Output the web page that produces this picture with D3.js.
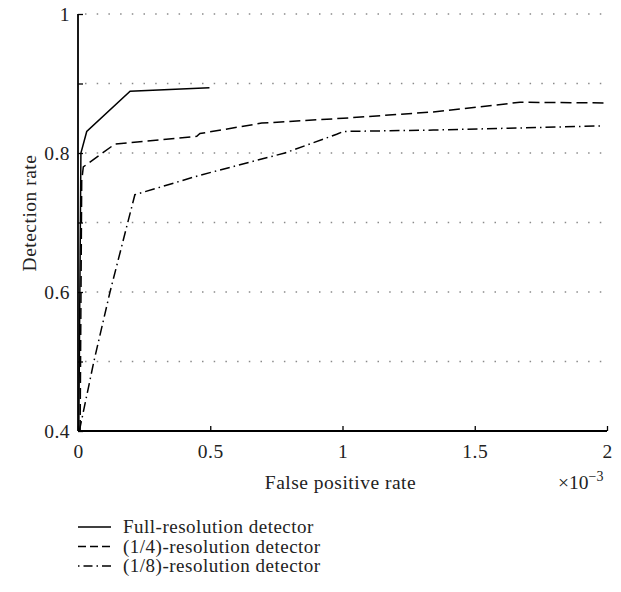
<!DOCTYPE html>
<html>
<head>
<meta charset="utf-8">
<script src="https://cdn.jsdelivr.net/npm/d3@7"></script>
<style>
  html, body { margin: 0; padding: 0; background: #fff; }
  svg { display: block; }
  text { font-family: "Liberation Serif", "DejaVu Serif", serif; fill: #222; }
</style>
</head>
<body>
<svg id="chart" width="621" height="592"></svg>
<script>
// ---- data (x in units of 1e-3) ----
const seriesNames = ["Full-resolution detector", "(1/4)-resolution detector", "(1/8)-resolution detector"];
const fullX = [0.003, 0.011, 0.033, 0.197, 0.497];
const fullY = [0.400, 0.800, 0.831, 0.889, 0.894];
const quarterX = [0.008, 0.014, 0.020, 0.140, 0.449, 0.461, 0.695, 1.003, 1.343, 1.671, 1.999];
const quarterY = [0.400, 0.760, 0.780, 0.813, 0.824, 0.828, 0.843, 0.850, 0.859, 0.873, 0.872];
const eighthX = [0.005, 0.060, 0.121, 0.215, 0.461, 0.782, 0.978, 1.003, 1.343, 1.986];
const eighthY = [0.400, 0.500, 0.600, 0.740, 0.768, 0.800, 0.827, 0.831, 0.833, 0.839];
const xTicks = [0, 0.5, 1, 1.5, 2];
const xTickLabels = ["0", "0.5", "1", "1.5", "2"];
const yTicks = [0.4, 0.5, 0.6, 0.7, 0.8, 0.9, 1.0];
const yTickLabels = ["0.4", "", "0.6", "", "0.8", "", "1"];
const gridY = [0.5, 0.6, 0.7, 0.8, 0.9, 1.0];

const svg = d3.select("#chart");
const mLeft = 78, mRight = 607, mTop = 14, mBottom = 431;
const FS = 19, LS = "0.5px";
const x = d3.scaleLinear().domain([0, 2]).range([mLeft, mRight]);
const y = d3.scaleLinear().domain([0.4, 1.0]).range([mBottom, mTop]);

// grid
svg.append("g").selectAll("line").data(gridY).join("line")
  .attr("x1", mLeft).attr("x2", mRight)
  .attr("y1", d => y(d)).attr("y2", d => y(d))
  .attr("stroke", "#8a8a8a").attr("stroke-width", 1.5)
  .attr("stroke-dasharray", "1.5,10.2").attr("stroke-dashoffset", -7);

// series
const line = d3.line().x(d => x(d[0])).y(d => y(d[1]));
const series = [
  { pts: d3.zip(fullX, fullY), dash: null },
  { pts: d3.zip(quarterX, quarterY), dash: "11,5" },
  { pts: d3.zip(eighthX, eighthY), dash: "10,4,1.5,4" }
];
series.forEach(s => {
  svg.append("path").datum(s.pts).attr("d", line)
    .attr("fill", "none").attr("stroke", "#000").attr("stroke-width", 1.5)
    .attr("stroke-dasharray", s.dash);
});

// axes
const yAxis = d3.axisLeft(y).tickValues(yTicks).tickSize(-5).tickPadding(8)
  .tickFormat((d, i) => yTickLabels[i]);
const gy = svg.append("g").attr("transform", `translate(${mLeft},0)`).call(yAxis);
const xAxis = d3.axisBottom(x).tickValues(xTicks).tickSize(-5).tickPadding(13)
  .tickFormat((d, i) => xTickLabels[i]);
const gx = svg.append("g").attr("transform", `translate(0,${mBottom})`).call(xAxis);
[gx, gy].forEach(g => {
  g.attr("font-family", null).attr("font-size", null);
  g.select(".domain").attr("stroke", "#000").attr("stroke-width", 1.8);
  g.selectAll(".tick line").attr("stroke", "#000").attr("stroke-width", 1.3);
  g.selectAll(".tick text").style("font-size", (FS + 0.5) + "px").style("letter-spacing", LS);
});
gx.select(".domain").attr("d", `M${mLeft},0H${mRight}`);
gy.select(".domain").attr("d", `M0,${mBottom}V${mTop}`);
gy.selectAll(".tick text").attr("dy", "0.35em");

// axis labels
svg.append("text").attr("x", (mLeft + mRight) / 2 - 2).attr("y", 489)
  .attr("text-anchor", "middle").style("font-size", (FS + 0.5) + "px").style("letter-spacing", LS)
  .text("False positive rate");
const mult = svg.append("text").attr("x", 558).attr("y", 489).style("font-size", (FS + 0.5) + "px");
mult.append("tspan").text("×10");
mult.append("tspan").attr("dy", -8).style("font-size", "14px").text("−3");
svg.append("text").attr("transform", `translate(36,213) rotate(-90)`)
  .attr("text-anchor", "middle").style("font-size", (FS + 0.5) + "px").style("letter-spacing", LS)
  .text("Detection rate");

// legend
const legY = [533, 552.5, 572];
const legDash = [null, "8,4", "1.5,4,9,4"];
seriesNames.forEach((name, i) => {
  svg.append("line").attr("x1", 78).attr("x2", 111)
    .attr("y1", legY[i] - 6).attr("y2", legY[i] - 6)
    .attr("stroke", "#000").attr("stroke-width", 1.3)
    .attr("stroke-dasharray", legDash[i]);
  svg.append("text").attr("x", 123).attr("y", legY[i])
    .style("font-size", FS + "px").style("letter-spacing", LS).text(name);
});
</script>
</body>
</html>
